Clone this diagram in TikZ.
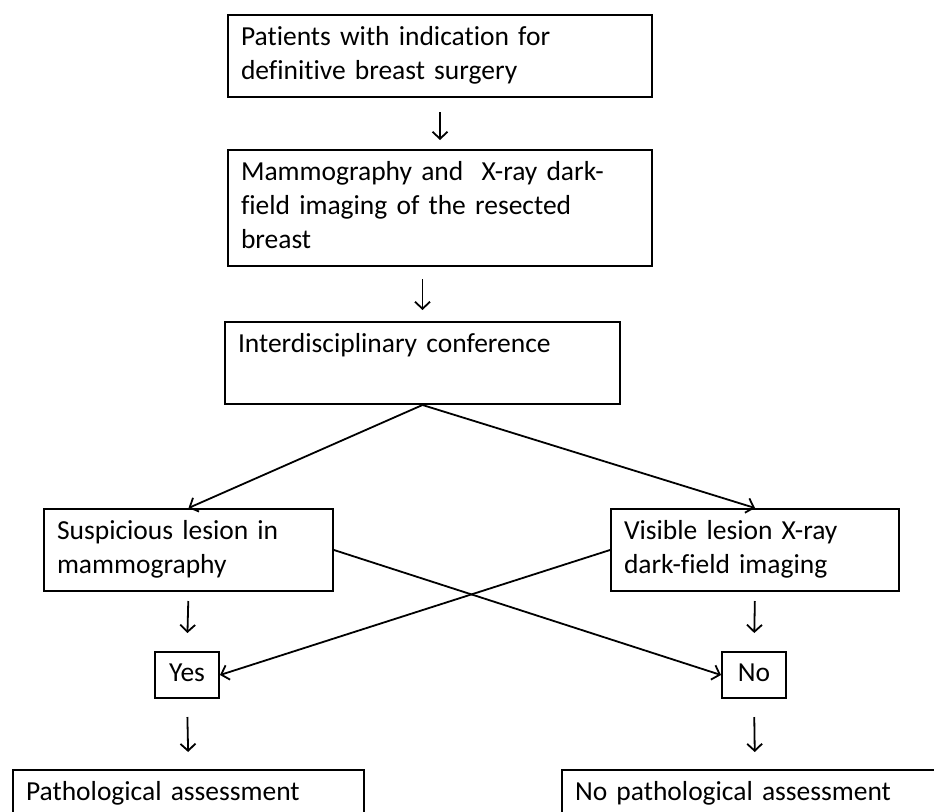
\documentclass[tikz,border=0pt]{standalone}
\usepackage{fontspec}
\setmainfont{Carlito}[Ligatures=NoCommon]
\usetikzlibrary{arrows.meta}

\begin{document}
\begin{tikzpicture}[x=1pt,y=-1pt,
  box/.style={draw, line width=2pt, rectangle, anchor=north west, align=left,
    inner xsep=13pt, inner ysep=7pt, font=\fontsize{27.5}{34}\selectfont,
    execute at begin node=\strut, execute at end node=\strut},
  answer/.style={box, anchor=center, inner ysep=6pt, minimum width=64pt},
  flow/.style={line width=1.8pt, -{Straight Barb[length=7pt,width=15pt,line width=1.8pt]}}]
\clip (0,0) rectangle (934,811);
\useasboundingbox (0,0) rectangle (934,811);
\node[box, text width=398pt] (patients) at (227,14) {Patients with indication for\\definitive breast surgery};
\node[box, text width=398pt] (imaging) at (227,149) {Mammography and\ \ X-ray dark-\\field imaging of the resected\\breast};
\node[box, text width=369pt] (conf) at (224,321) {Interdisciplinary conference\\};
\node[box, text width=263pt] (susp) at (43,508) {Suspicious lesion in\\mammography};
\node[box, text width=262pt] (vis) at (610,508) {Visible lesion X-ray\\dark-field imaging};
\node[answer] (yes) at (187,675) {Yes};
\node[answer] (no) at (754,675) {No};
\node[box, text width=325pt] (path) at (12,769) {Pathological assessment\\};
\node[box, text width=360pt] (nopath) at (561,769) {No pathological assessment\\};
\draw[flow, shorten <=14pt, shorten >=9pt] (patients.south) -- (imaging.north);
\draw[flow, shorten <=12pt, shorten >=11pt] (conf.north |- imaging.south) -- (conf.north);
\draw[flow] (conf.south) -- (susp.north);
\draw[flow] (conf.south) -- (vis.north);
\draw[flow, shorten <=9pt, shorten >=18pt] (susp.south) -- (yes.north);
\draw[flow, shorten <=9pt, shorten >=18pt] (vis.south) -- (no.north);
\draw[flow] (susp.east) -- (no.west);
\draw[flow] (vis.west) -- (yes.east);
\draw[flow, shorten <=18pt, shorten >=17pt] (yes.south) -- (path.north);
\draw[flow, shorten <=18pt, shorten >=17pt] (no.south) -- (nopath.north);
\end{tikzpicture}
\end{document}
